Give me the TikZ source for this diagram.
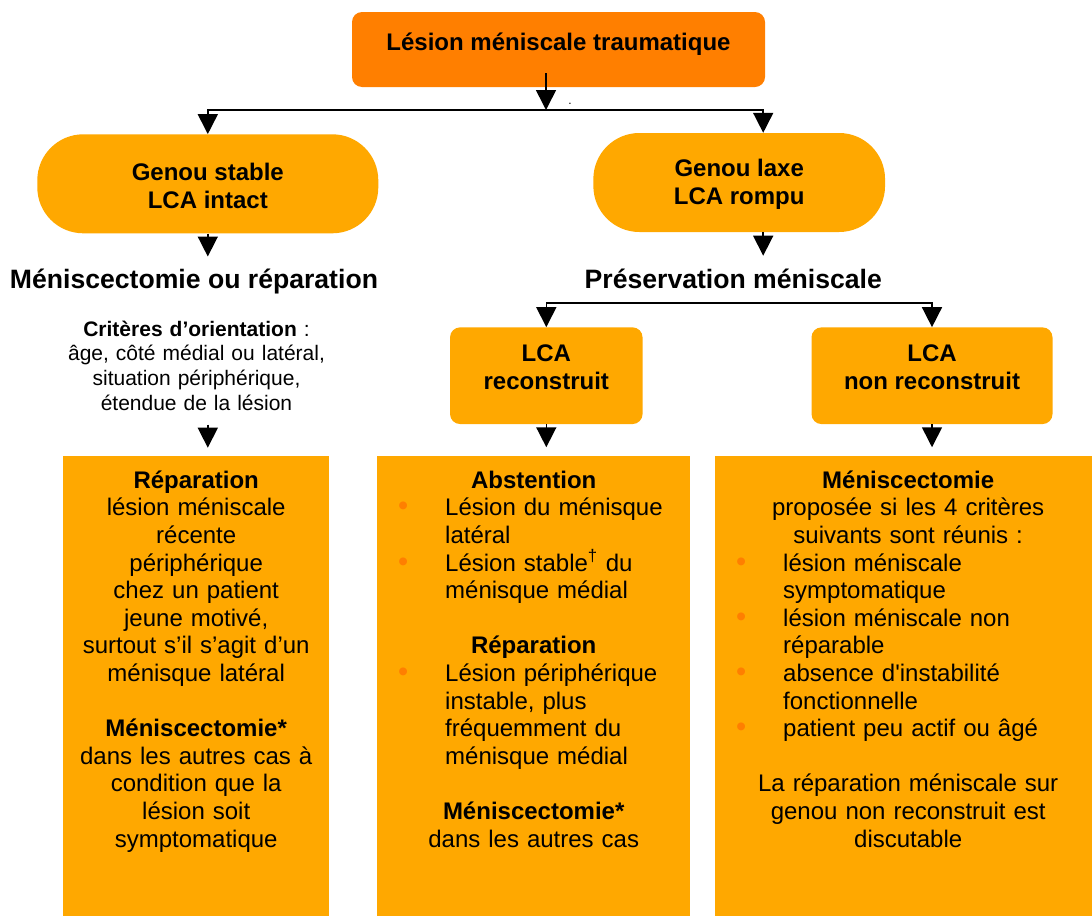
\documentclass[tikz,border=0pt]{standalone}
\usepackage{fontspec}
\setmainfont{Liberation Sans}
\usetikzlibrary{arrows.meta,positioning}
\definecolor{orangefonce}{HTML}{FF7F00}
\definecolor{orangeclair}{HTML}{FFA800}
\newcommand{\puce}[1]{\par\noindent\hangindent=47pt\hangafter=1{\let\\\newline\makebox[47pt][l]{\textcolor{orangefonce}{\fontsize{29}{27.6}\selectfont\textbullet}}#1}\par}
\newcommand{\entete}[1]{{\centering #1\par}}
\tikzset{
  fleche/.style={line width=1.6pt, -{Triangle[width=20pt,length=20pt]}},
  ovale/.style={fill=orangeclair, rounded corners=46pt, minimum height=99pt, align=center, font=\fontsize{24}{27.6}\selectfont\bfseries},
  cadre/.style={fill=orangeclair, rounded corners=10pt, minimum height=96.7pt},
  boite/.style={fill=orangeclair, anchor=north west, minimum height=460pt, inner sep=0pt},
  titre/.style={anchor=base, inner sep=0pt, font=\fontsize{26.6}{30}\selectfont\bfseries},
  corps/.style={anchor=north, inner sep=0pt, text width=#1, align=left, font=\fontsize{24}{27.6}\selectfont},
  texte/.style={align=center, font=\fontsize{24}{27.6}\selectfont\bfseries}
}
\begin{document}
\begin{tikzpicture}[x=1pt,y=-1pt]
\useasboundingbox (0,0) rectangle (1092,916);
\node[fill=orangefonce, rounded corners=10pt, minimum width=413pt, minimum height=75pt,
  label={[texte, yshift=5pt]center:Lésion méniscale traumatique}] (lesion) at (558.5,49.5) {};
\node[anchor=base, inner sep=0pt, font=\fontsize{12}{12}\selectfont] (point) at (570,104) {.};
\node[ovale, minimum width=341pt, label={[texte, yshift=-2pt]center:Genou stable\\LCA intact}] (stable) at (207.8,183.8) {};
\node[ovale, minimum width=291.7pt, label={[texte, yshift=-2pt]center:Genou laxe\\LCA rompu}] (laxe) at (739.2,182.5) {};
\node[titre] (menrep) at (194,288.3) {Méniscectomie ou réparation};
\node[titre] (preserv) at (733.3,288.3) {Préservation méniscale};
\node[anchor=north, inner sep=0pt, text width=290pt, align=center, font=\fontsize{21}{24.7}\selectfont] (crit) at (196.5,318.7)
  {\strut\textbf{Critères d’orientation} :\\âge, côté médial ou latéral,\\situation périphérique,\\étendue de la lésion};
\node[cadre, minimum width=192.5pt, label={[texte, yshift=8.3pt]center:LCA\\reconstruit}] (recon) at (546.3,375.7) {};
\node[cadre, minimum width=241pt, label={[texte, yshift=8.3pt]center:LCA\\non reconstruit}] (nonrecon) at (932,375.7) {};
\foreach \nom/\gauche/\largeur in {rep/63/266, abst/377/313, menisc/715/377}
{
	\node[boite, minimum width=\largeur pt] (\nom) at (\gauche,456) {};
}
\node[corps=250pt] (repT) at ([yshift=-12.7pt]rep.north) {%
\entete{\strut\textbf{Réparation}\\lésion méniscale\\récente\\périphérique\\chez un patient\\jeune motivé,\\surtout s’il s’agit d’un\\ménisque latéral}
\vspace{27.6pt}
\entete{\textbf{Méniscectomie*}\\dans les autres cas à\\condition que la\\lésion soit\\symptomatique}};
\node[corps=271pt] (abstT) at ([yshift=-12.7pt]abst.north) {%
\entete{\strut\textbf{Abstention}}
\puce{Lésion du ménisque\\latéral}
\puce{Lésion stable\textsuperscript{†} du\\ménisque médial}
\vspace{27.6pt}
\entete{\textbf{Réparation}}
\puce{Lésion périphérique\\instable, plus\\fréquemment du\\ménisque médial}
\vspace{27.6pt}
\entete{\textbf{Méniscectomie*}\\dans les autres cas}};
\node[corps=344pt] (menT) at ([xshift=4.5pt,yshift=-12.7pt]menisc.north) {%
\entete{\strut\textbf{Méniscectomie}\\proposée si les 4 critères\\suivants sont réunis :}
\puce{lésion méniscale\\symptomatique}
\puce{lésion méniscale non\\réparable}
\puce{absence d\textquotesingle instabilité\\fonctionnelle}
\puce{patient peu actif ou âgé}
\vspace{27.6pt}
\entete{La réparation méniscale sur\\genou non reconstruit est\\discutable}};
\coordinate (fourche1) at (546,110);
\coordinate (fourche2) at (739,303);
\draw[fleche] ([xshift=-12.5pt,yshift=14pt]lesion.south) -- (fourche1);
\draw[fleche] (fourche1) -| (stable.north);
\draw[fleche] (fourche1) -| ([xshift=24pt]laxe.north);
\draw[fleche] (stable.south) -- ++(0,23);
\draw[fleche] ([xshift=24pt]laxe.south) -- ++(0,23.5);
\draw[fleche] (fourche2) -| (recon.north);
\draw[fleche] (fourche2) -| (nonrecon.north);
\draw[fleche] (recon.south) -- ++(0,23);
\draw[fleche] (nonrecon.south) -- ++(0,23);
\draw[fleche] (crit.south -| stable.south) ++(0,14) -- ++(0,23);
\end{tikzpicture}
\end{document}
